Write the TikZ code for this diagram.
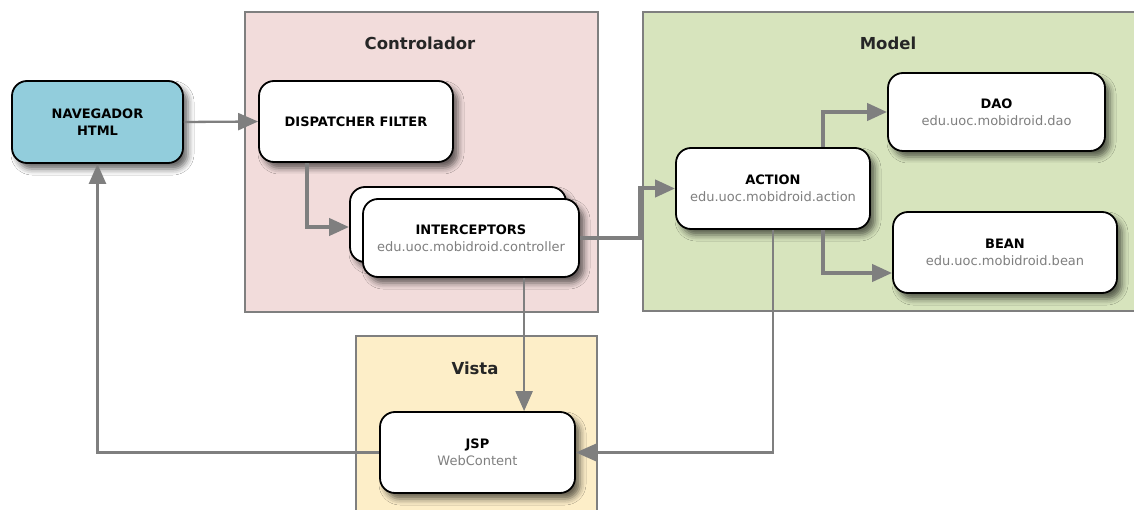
\documentclass[tikz,border=0pt]{standalone}
\usepackage{fontspec}
\setmainfont{DejaVu Sans}
\usetikzlibrary{arrows.meta,shadows.blur,calc}

\definecolor{ctrlfill}{HTML}{F2DCDB}
\definecolor{modelfill}{HTML}{D7E4BD}
\definecolor{vistafill}{HTML}{FDEEC8}
\definecolor{navfill}{HTML}{92CDDC}
\definecolor{linkgray}{HTML}{7F7F7F}
\definecolor{subgray}{HTML}{7F7F7F}

\tikzset{
  layer/.style={draw=linkgray, line width=2pt},
  layertitle/.style={font=\fontsize{16.5}{20}\selectfont\bfseries, text=black!85},
  comp/.style={draw=black, line width=1.8pt, fill=white, rounded corners=15pt,
    align=center, inner sep=0pt, font=\fontsize{13}{17}\selectfont,
    blur shadow={shadow xshift=5pt, shadow yshift=-6pt, shadow blur radius=6pt, shadow opacity=60}},
  link/.style={draw=linkgray, line width=2.3pt, -{Triangle[length=20pt,width=17pt]}},
  thicklink/.style={link, line width=4pt, line join=miter},
}
\newcommand{\comptext}[2]{\textbf{#1}\\\textcolor{subgray}{#2}}

\begin{document}
\begin{tikzpicture}[x=1pt,y=-1pt]
  \useasboundingbox (0,0) rectangle (1134,510);
  \fill[white] (0,0) rectangle (1134,510);

  % layer boxes
  \draw[layer, fill=ctrlfill] (245,12) rectangle (598,312);
  \draw[layer, fill=modelfill] (643,12) rectangle (1140,311);
  \draw[layer, fill=vistafill] (356,336) rectangle (597,520);

  \node[layertitle] (tctrl) at (420,43) {Controlador};
  \node[layertitle] (tmodel) at (888,43) {Model};
  \node[layertitle] (tvista) at (475,368) {Vista};

  % components
  \node[comp, fill=navfill, minimum width=171pt, minimum height=82pt] (nav) at (97.5,122)
    {\textbf{NAVEGADOR}\\\textbf{HTML}};
  \node[comp, minimum width=194pt, minimum height=81pt] (disp) at (356,121.5)
    {\textbf{DISPATCHER FILTER}};
  \node[comp, minimum width=216pt, minimum height=75pt] (intb) at (458,224.5) {};
  \node[comp, minimum width=216pt, minimum height=78pt] (intf) at (471,238)
    {\comptext{INTERCEPTORS}{edu.uoc.mobidroid.controller}};
  \node[comp, minimum width=194pt, minimum height=81pt] (action) at (773,188.5)
    {\comptext{ACTION}{edu.uoc.mobidroid.action}};
  \node[comp, minimum width=217pt, minimum height=78pt] (dao) at (996.5,112)
    {\comptext{DAO}{edu.uoc.mobidroid.dao}};
  \node[comp, minimum width=224pt, minimum height=81pt] (bean) at (1005,252.5)
    {\comptext{BEAN}{edu.uoc.mobidroid.bean}};
  \node[comp, minimum width=195pt, minimum height=81pt] (jsp) at (477.5,452.5)
    {\comptext{JSP}{WebContent}};

  % connectors
  \draw[link] (nav.east) -- (disp.west);
  \draw[thicklink] ($(disp.south west)+(49,0)$) |- ($(intb.west)+(0,2.5)$);
  \draw[thicklink] (intf.east) -- ++(60,0) |- (action.west);
  \draw[link] ($(intf.south west)+(162,0)$) coordinate (idown) -- (idown |- jsp.north);
  \draw[thicklink] ($(action.north east)+(-48,0)$) |- (dao.west);
  \draw[thicklink] ($(action.south east)+(-48,0)$) |- ($(bean.west)+(0,20.5)$);
  \draw[link] (action.south) |- (jsp.east);
  \draw[link] (jsp.west) -| (nav.south);
\end{tikzpicture}
\end{document}
